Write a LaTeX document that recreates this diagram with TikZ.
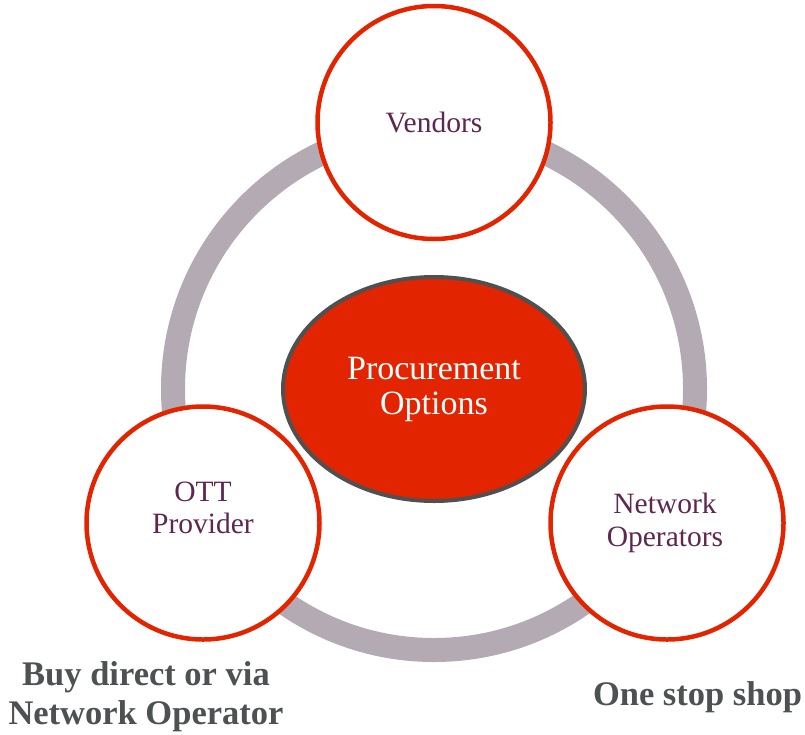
\documentclass[tikz,border=0pt]{standalone}
\usepackage{fontspec}
\setmainfont{Liberation Serif}
\usepackage{xcolor}
\definecolor{ringgrey}{HTML}{B3AAB3}
\definecolor{hubred}{HTML}{E32400}
\definecolor{hubedge}{HTML}{4F5151}
\definecolor{plum}{HTML}{5E2750}
\definecolor{captiongrey}{HTML}{4D5152}
\usepackage{tikz}
\usetikzlibrary{positioning,shapes}

\tikzset{
	bubble/.style={circle,draw=hubred,fill=white,line width=4.5pt,minimum size=233pt,inner sep=0pt},
	bubbletext/.style={text=plum,align=center,font=\fontsize{29.5}{32.5}\selectfont},
	hub/.style={ellipse,draw=hubedge,fill=hubred,line width=4pt,minimum width=302pt,minimum height=224pt,inner sep=0pt,
		text=white,align=center,font=\fontsize{34}{35}\selectfont},
	caption/.style={text=captiongrey,align=center,font=\bfseries\fontsize{34.5}{39}\selectfont}
}

\begin{document}
\begin{tikzpicture}[x=1pt,y=-1pt]
		\useasboundingbox (0,0) rectangle (805,734);
		
		\draw[ringgrey, line width=24pt] (434,389) circle (261pt); %%% RING
		
		\node[hub] (options) at (434,389) {Procurement\\Options};
		
		\node[bubble] (vendors) at (434,122.5) {};
		\node[bubble] (ott) at (203,523) {};
		\node[bubble] (operators) at (667,523) {};
		
		\node[bubbletext] (vendorslabel) at (vendors) {Vendors};
		\node[bubbletext,yshift=15pt] (ottlabel) at (ott) {OTT\\Provider};
		\node[bubbletext,xshift=-2pt] (operatorslabel) at (operators) {Network\\Operators};
		
		\node[caption] (direct) at (146,697) {Buy direct or via\\Network Operator};
		\node[caption] (onestop) at (697.5,697) {One stop shop};
		
	\end{tikzpicture}
\end{document}
